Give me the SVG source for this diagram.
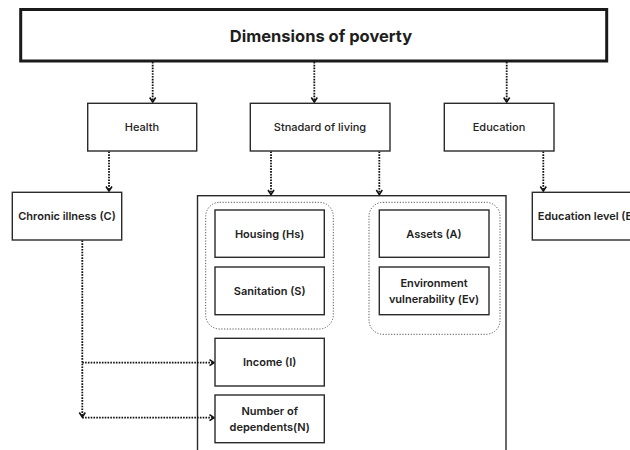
<svg xmlns="http://www.w3.org/2000/svg" width="630" height="450" viewBox="0 0 630 450">
<style>
.box{fill:#fff;stroke:#2a2a2a;stroke-width:1.4}
.grp{fill:none;stroke:#555;stroke-width:1;stroke-dasharray:1.2 1.6}
.con{fill:none;stroke:#111;stroke-width:1.8;stroke-dasharray:1.6 1.2}
.t{font-family:Inter,"Liberation Sans",sans-serif;font-size:11px;font-weight:600;fill:#222;text-anchor:middle}
.t2{font-family:Inter,"Liberation Sans",sans-serif;font-size:11px;font-weight:500;fill:#222;text-anchor:middle}
</style>
<defs>
<marker id="ah" viewBox="0 0 8 8" refX="6" refY="4" markerWidth="8" markerHeight="8" markerUnits="userSpaceOnUse" orient="auto">
<path d="M1.5,1 L6,4 L1.5,7" fill="none" stroke="#111" stroke-width="1.6"/>
</marker>
</defs>
<rect width="630" height="450" fill="#fff"/>
<g id="container">
<rect x="197.5" y="195.7" width="308.5" height="270" fill="#fff" stroke="#2a2a2a" stroke-width="1.4"/>
</g>
<g id="group-housing-sanitation">
<rect class="grp" x="205.7" y="202.3" width="127.6" height="126.7" rx="14"/>
</g>
<g id="group-assets-env">
<rect class="grp" x="369" y="202.3" width="131" height="132" rx="14"/>
</g>
<g id="connectors">
<path class="con" d="M152.7,62 V102" marker-end="url(#ah)"/>
<path class="con" d="M314.3,62 V102" marker-end="url(#ah)"/>
<path class="con" d="M506.7,62 V102" marker-end="url(#ah)"/>
<path class="con" d="M109,151.5 V191" marker-end="url(#ah)"/>
<path class="con" d="M271,151.5 V194.5" marker-end="url(#ah)"/>
<path class="con" d="M379.3,151.5 V194.5" marker-end="url(#ah)"/>
<path class="con" d="M543.3,151.5 V191" marker-end="url(#ah)"/>
<path class="con" d="M82.3,240.5 V417" marker-end="url(#ah)"/>
<path class="con" d="M82.3,362.7 H214" marker-end="url(#ah)"/>
<path class="con" d="M82.3,417.7 H214" marker-end="url(#ah)"/>
</g>
<g id="dimensions">
<rect x="20.7" y="9.5" width="586" height="51.5" fill="#fff" stroke="#1a1a1a" stroke-width="3"/>
<text x="321" y="41.5" font-family="Inter,'Liberation Sans',sans-serif" font-size="16.5" font-weight="700" fill="#1e1e1e" text-anchor="middle">Dimensions of poverty</text>
</g>
<g id="health">
<rect class="box" x="87.7" y="103.3" width="109" height="47.7"/>
<text class="t2" x="142" y="131">Health</text>
</g>
<g id="standard">
<rect class="box" x="250.3" y="103.3" width="139.7" height="47.7"/>
<text class="t2" x="320" y="131">Stnadard of living</text>
</g>
<g id="education">
<rect class="box" x="444.3" y="103.3" width="109.7" height="47.7"/>
<text class="t2" x="499" y="131">Education</text>
</g>
<g id="chronic">
<rect class="box" x="12.3" y="192.3" width="109.4" height="47.7"/>
<text class="t" x="67" y="220">Chronic illness (C)</text>
</g>
<g id="edulevel">
<rect class="box" x="532.3" y="192.3" width="110" height="47.7"/>
<text class="t" x="587" y="220">Education level (E)</text>
</g>
<g id="housing">
<rect class="box" x="215" y="210" width="109.3" height="47.3"/>
<text class="t" x="269.7" y="237.5">Housing (Hs)</text>
</g>
<g id="sanitation">
<rect class="box" x="215" y="267" width="109.3" height="47.7"/>
<text class="t" x="269.7" y="294.5">Sanitation (S)</text>
</g>
<g id="assets">
<rect class="box" x="379.3" y="210" width="109.7" height="47.3"/>
<text class="t" x="434" y="237.5">Assets (A)</text>
</g>
<g id="environment">
<rect class="box" x="379.3" y="267" width="109.7" height="47.7"/>
<text class="t" x="434" y="286.5">Environment</text>
<text class="t" x="434" y="302.5">vulnerability (Ev)</text>
</g>
<g id="income">
<rect class="box" x="215" y="338.3" width="109.3" height="47.7"/>
<text class="t" x="269.7" y="366">Income (I)</text>
</g>
<g id="dependents">
<rect class="box" x="215" y="395" width="109.3" height="47.7"/>
<text class="t" x="269.7" y="414.5">Number of</text>
<text class="t" x="269.7" y="430.5">dependents(N)</text>
</g>
</svg>
